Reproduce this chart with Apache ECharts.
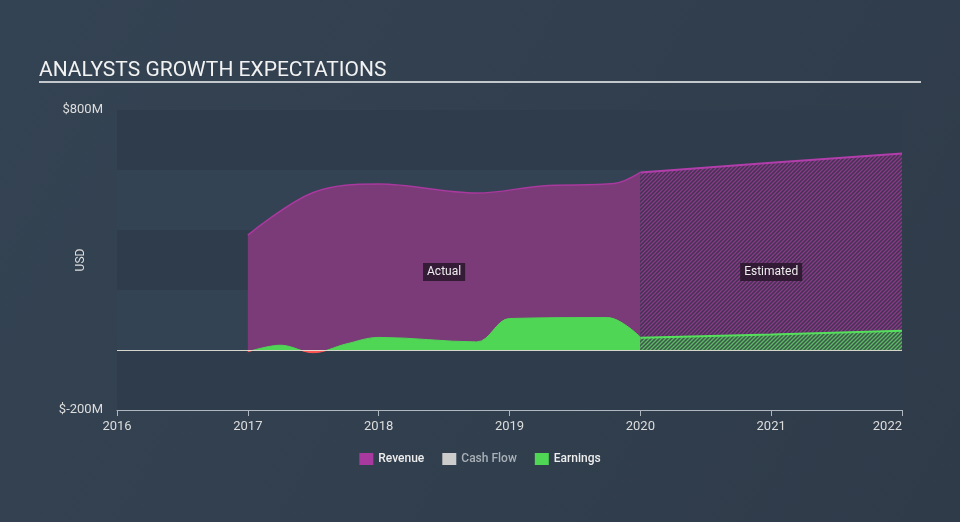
<!DOCTYPE html>
<html>
<head>
<meta charset="utf-8">
<script src="https://cdn.jsdelivr.net/npm/echarts@6/dist/echarts.min.js"></script>
<style>
html,body{margin:0;padding:0;background:#323f4e;}
#chart{width:960px;height:522px;}
</style>
</head>
<body>
<div id="chart"></div>
<script>
// ---- Data ----
const xTicks = [2016, 2017, 2018, 2019, 2020, 2021, 2022];
const yTickLabels = { '800': '$800M', '-200': '$-200M' };

const revActX = [2017, 2017.5, 2018, 2018.75, 2019.25, 2019.8, 2020];
const revActY = [383, 525, 553, 523, 547, 555, 592];
const revEstX = [2020, 2021, 2022];
const revEstY = [592, 624, 655];

const earnActX = [2017, 2017.25, 2017.5, 2017.75, 2018, 2018.75, 2019, 2019.75, 2020];
const earnActY = [-6, 16, -9, 20, 42, 27, 105, 108, 43];
const earnEstX = [2020, 2021, 2022];
const earnEstY = [41, 52, 64];

const cashFlowY = [];

function pairs(xs, ys) { return xs.map((x, i) => [x, ys[i]]); }

function hatch(base, line) {
  const c = document.createElement('canvas');
  const s = 4;
  c.width = s; c.height = s;
  const g = c.getContext('2d');
  g.fillStyle = base; g.fillRect(0, 0, s, s);
  g.strokeStyle = line; g.lineWidth = 1.3;
  g.beginPath();
  g.moveTo(-1, s + 1); g.lineTo(s + 1, -1);
  g.moveTo(-1, 1); g.lineTo(1, -1);
  g.moveTo(s - 1, s + 1); g.lineTo(s + 1, s - 1);
  g.stroke();
  return { image: c, repeat: 'repeat' };
}

const chart = echarts.init(document.getElementById('chart'), null, { renderer: 'canvas' });
const FONT = 'Roboto, "Noto Sans", sans-serif';

const option = {
  animation: false,
  backgroundColor: {
    type: 'linear', x: 0, y: 0, x2: 1, y2: 1,
    colorStops: [{ offset: 0, color: '#344353' }, { offset: 1, color: '#2f3b49' }]
  },
  textStyle: { fontFamily: FONT },
  title: {
    text: 'ANALYSTS GROWTH EXPECTATIONS',
    left: 34, top: 55,
    textStyle: { color: '#f2f2f2', fontSize: 21, fontWeight: 'normal', fontFamily: FONT }
  },
  graphic: [{
    type: 'rect', shape: { x: 39, y: 81, width: 882, height: 2 },
    style: { fill: '#c3c8cd' }, silent: true
  }],
  legend: {
    bottom: 52, left: 'center',
    icon: 'rect', itemWidth: 14, itemHeight: 12, itemGap: 18,
    textStyle: { color: '#eeeeee', fontSize: 12, fontWeight: 500, fontFamily: FONT },
    data: [
      { name: 'Revenue', itemStyle: { color: '#a8399e' } },
      { name: 'Cash Flow', itemStyle: { color: '#cccccc' }, textStyle: { color: '#a9b0b8' } },
      { name: 'Earnings', itemStyle: { color: '#4fd655' } }
    ]
  },
  grid: { left: 117, right: 58, top: 110, bottom: 112 },
  xAxis: {
    type: 'value', min: 2016, max: 2022, interval: 1,
    axisLine: { show: true, onZero: false, lineStyle: { color: '#aeb6bf', width: 1 } },
    axisTick: { show: true, length: 6, lineStyle: { color: '#aeb6bf' } },
    axisLabel: {
      color: '#dddddd', fontSize: 13, margin: 10, fontFamily: FONT,
      formatter: v => xTicks.includes(v) ? String(v) : '',
      alignMaxLabel: 'right'
    },
    splitLine: { show: false }
  },
  yAxis: {
    type: 'value', min: -200, max: 800, interval: 200,
    name: 'USD', nameLocation: 'middle', nameGap: 30, nameRotate: 90, nameMoveOverlap: false,
    nameTextStyle: { color: '#dddddd', fontSize: 12, fontFamily: FONT },
    axisLine: { show: false }, axisTick: { show: false },
    axisLabel: {
      color: '#dddddd', fontSize: 13, margin: 14, fontFamily: FONT,
      formatter: v => yTickLabels[String(v)] || ''
    },
    splitLine: { show: false },
    splitArea: { show: true, areaStyle: { color: ['#2f3c4b', '#334353'] } }
  },
  visualMap: {
    show: false, type: 'piecewise', seriesIndex: 2, dimension: 1,
    pieces: [
      { gte: -1000, lt: 0, color: '#ff5555' },
      { gte: 0, lte: 1000, color: '#4fd655' }
    ]
  },
  series: [
    {
      name: 'Revenue', type: 'line', data: pairs(revActX, revActY),
      smooth: 0.35, symbol: 'none',
      itemStyle: { color: '#a8399e' },
      lineStyle: { color: '#a8399e', width: 1.5 },
      areaStyle: { color: '#7b3a78', opacity: 1 },
      markPoint: {
        symbol: 'rect', symbolSize: 0, silent: true,
        data: [
          { coord: [2018.5, 260], value: 'Actual' },
          { coord: [2021.0, 260], value: 'Estimated' }
        ],
        label: {
          show: true, position: 'inside', color: '#eeeeee', fontSize: 12, fontFamily: FONT,
          backgroundColor: 'rgba(40,22,42,0.85)', padding: [3, 4],
          formatter: p => p.value
        }
      }
    },
    {
      name: 'Revenue', type: 'line', data: pairs(revEstX, revEstY),
      smooth: false, symbol: 'none',
      itemStyle: { color: '#a8399e' },
      lineStyle: { color: '#b23eab', width: 2 },
      areaStyle: { color: hatch('#433352', '#8a3a88'), opacity: 1 }
    },
    {
      name: 'Earnings', type: 'line', data: pairs(earnActX, earnActY),
      smooth: 0.35, symbol: 'none',
      itemStyle: { color: '#4fd655' },
      lineStyle: { width: 1 },
      areaStyle: { opacity: 1 },
      markLine: {
        silent: true, symbol: 'none', label: { show: false },
        lineStyle: { color: '#e8e4d8', width: 1.2, type: 'solid', opacity: 0.9 },
        data: [{ yAxis: 0 }]
      }
    },
    {
      name: 'Earnings', type: 'line', data: pairs(earnEstX, earnEstY),
      smooth: false, symbol: 'none',
      itemStyle: { color: '#4fd655' },
      lineStyle: { color: '#55e05c', width: 2 },
      areaStyle: { color: hatch('#3c5848', '#5cba66'), opacity: 1 }
    },
    {
      name: 'Cash Flow', type: 'line', data: cashFlowY, symbol: 'none',
      itemStyle: { color: '#cccccc' }
    }
  ]
};
chart.setOption(option);
</script>
</body>
</html>
